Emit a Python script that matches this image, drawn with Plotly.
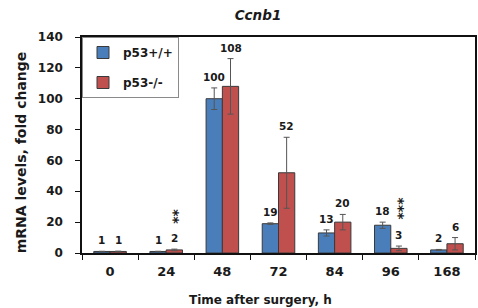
import plotly.graph_objects as go

categories = ["0", "24", "48", "72", "84", "96", "168"]
wt_values = [1, 1, 100, 19, 13, 18, 2]
wt_errors = [0.1, 0.1, 7, 0.5, 2, 2, 0.3]
ko_values = [1, 2, 108, 52, 20, 3, 6]
ko_errors = [0.2, 0.5, 18, 23, 5, 1.5, 4]
significance = ["", "**", "", "", "", "***", ""]
series_names = ["p53+/+", "p53-/-"]
y_ticks = [0, 20, 40, 60, 80, 100, 120, 140]

W, H = 478, 308
ML, MR, MT, MB = 82, 1, 37, 55
BARGAP = 0.42
FONT = "DejaVu Sans"

fig = go.Figure()
fig.add_trace(go.Bar(
    x=categories, y=wt_values, name=series_names[0],
    marker=dict(color="#4a7ebb", line=dict(color="#3a3a3a", width=1)),
    error_y=dict(type="data", array=wt_errors, visible=True,
                 color="#555555", thickness=1, width=3),
    legendgroup="a",
))
fig.add_trace(go.Bar(
    x=categories, y=ko_values, name=series_names[1],
    marker=dict(color="#c0504d", line=dict(color="#3a3a3a", width=1)),
    error_y=dict(type="data", array=ko_errors, visible=True,
                 color="#555555", thickness=1, width=3),
    legendgroup="b",
))

plot_w = W - ML - MR
bar_px = plot_w / len(categories) * (1 - BARGAP) / 2
shift = bar_px / 2

annotations = []
for vals, errs, sgn in ((wt_values, wt_errors, -1), (ko_values, ko_errors, 1)):
    for i, (v, e) in enumerate(zip(vals, errs)):
        annotations.append(dict(
            x=i, y=v + e, xref="x", yref="y", text=str(v), showarrow=False,
            xshift=sgn * shift, yanchor="bottom", yshift=3,
            font=dict(family=FONT, size=10.5, color="#1a1a1a", weight="bold"),
        ))
for i, (v, e, s) in enumerate(zip(ko_values, ko_errors, significance)):
    if s:
        annotations.append(dict(
            x=i, y=v + e, xref="x", yref="y", text=s, showarrow=False,
            xshift=shift, yanchor="bottom", yshift=23, textangle=90,
            font=dict(family=FONT, size=14, color="#1a1a1a", weight="bold"),
        ))
# axis titles
annotations.append(dict(
    x=(261 - ML) / plot_w, y=(H - MB - 300) / (H - MT - MB), xref="paper", yref="paper",
    text="Time after surgery, h", showarrow=False, xanchor="center", yanchor="middle",
    font=dict(family=FONT, size=12, color="#1a1a1a", weight="bold"),
))
annotations.append(dict(
    x=(21 - ML) / plot_w, y=(H - MB - 152) / (H - MT - MB), xref="paper", yref="paper",
    text="mRNA levels, fold change", showarrow=False, xanchor="center", yanchor="middle",
    textangle=-90,
    font=dict(family=FONT, size=14, color="#1a1a1a", weight="bold"),
))

fig.update_layout(
    width=W, height=H,
    margin=dict(l=ML, r=MR, t=MT, b=MB, pad=0),
    paper_bgcolor="white", plot_bgcolor="white",
    barmode="group", bargap=BARGAP, bargroupgap=0,
    title=dict(text="Ccnb1", x=258 / W, xref="container", xanchor="center",
               y=1 - 15 / H, yref="container", yanchor="middle",
               font=dict(family=FONT, size=13.5, color="#1a1a1a", weight="bold", style="italic")),
    legend=dict(x=0, y=1, xanchor="left", yanchor="top", xref="paper", yref="paper",
                bgcolor="white", bordercolor="#8a8a8a", borderwidth=1,
                font=dict(family=FONT, size=12, color="#1a1a1a", weight="bold"),
                itemwidth=30, tracegroupgap=11, traceorder="grouped"),
    annotations=annotations,
    showlegend=True,
)
fig.update_xaxes(
    type="category", range=[-0.5, len(categories) - 0.5],
    showline=True, linecolor="#111111", linewidth=1.5, mirror=True,
    ticks="outside", tickson="boundaries", ticklen=5, tickcolor="#111111",
    ticklabelstandoff=6, showgrid=False,
    tickfont=dict(family=FONT, size=13, color="#1a1a1a", weight="bold"),
)
fig.update_yaxes(
    range=[0, 140], tickvals=y_ticks,
    showline=True, linecolor="#111111", linewidth=1.5, mirror=True,
    ticks="outside", ticklen=5, tickcolor="#111111", ticklabelstandoff=10,
    showgrid=False, zeroline=False,
    tickfont=dict(family=FONT, size=12, color="#1a1a1a", weight="bold"),
)

fig.write_html("out.html", config={"displayModeBar": False},
               post_script="document.body.style.margin='0';")
